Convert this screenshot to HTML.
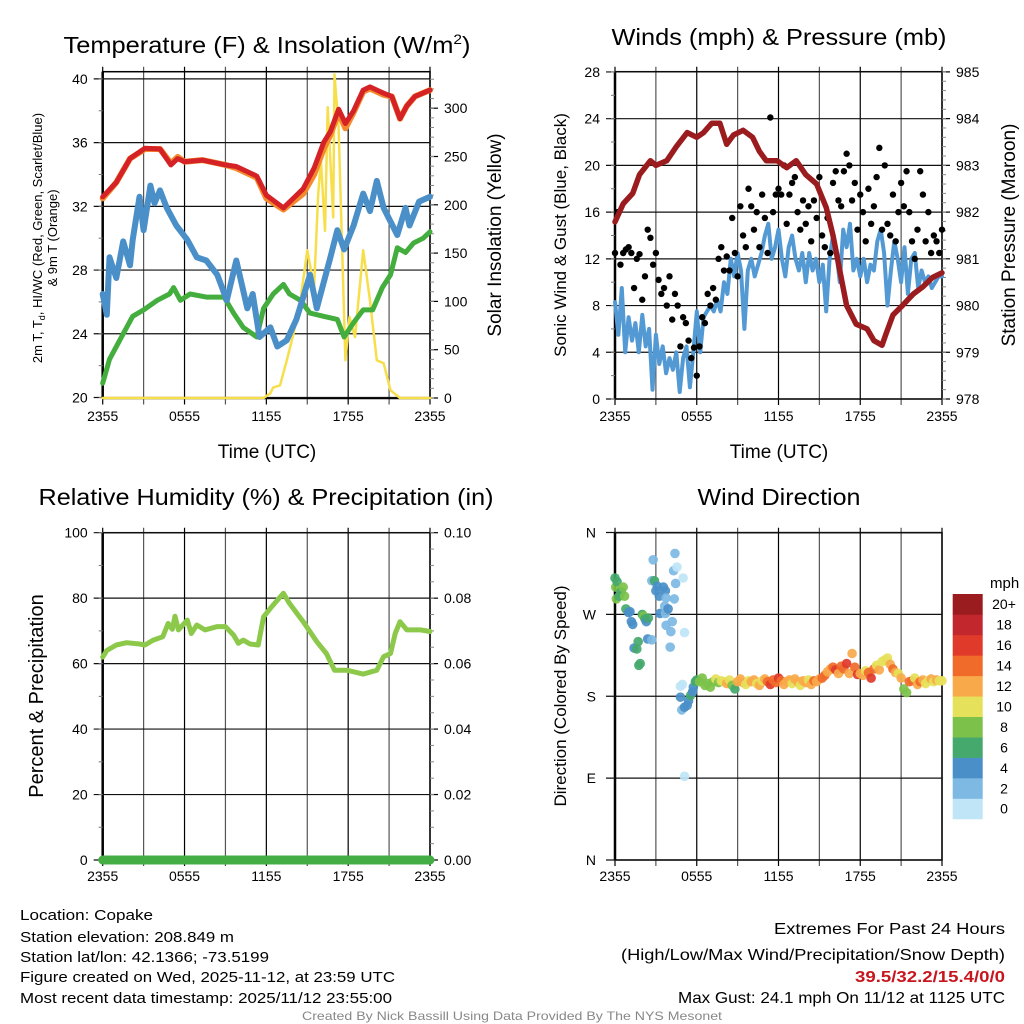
<!DOCTYPE html>
<html><head><meta charset="utf-8"><title>Copake Meteogram</title>
<style>
html,body{margin:0;padding:0;background:#fff;}
svg{display:block;font-family:"Liberation Sans",Arial,sans-serif;}
</style></head>
<body>
<svg id="chart" width="1024" height="1024" viewBox="0 0 1024 1024" xmlns="http://www.w3.org/2000/svg">
<rect width="1024" height="1024" fill="#fff"/>
<g id="layer"></g>
<text x="267" y="53" font-size="23" text-anchor="middle" textLength="407" lengthAdjust="spacingAndGlyphs">Temperature (F) &amp; Insolation (W/m<tspan font-size="14" dy="-9">2</tspan><tspan dy="9">)</tspan></text>
<text x="779" y="45" font-size="23" text-anchor="middle" textLength="335" lengthAdjust="spacingAndGlyphs">Winds (mph) &amp; Pressure (mb)</text>
<text x="266" y="505" font-size="23" text-anchor="middle" textLength="455" lengthAdjust="spacingAndGlyphs">Relative Humidity (%) &amp; Precipitation (in)</text>
<text x="779" y="505" font-size="23" text-anchor="middle" textLength="163" lengthAdjust="spacingAndGlyphs">Wind Direction</text>

<text x="267" y="458" font-size="19" text-anchor="middle">Time (UTC)</text>
<text x="779" y="458" font-size="19" text-anchor="middle">Time (UTC)</text>

<text font-size="13" text-anchor="middle" transform="translate(42,238) rotate(-90)">2m T, T<tspan font-size="9" dy="3">d</tspan><tspan dy="-3">, HI/WC (Red, Green, Scarlet/Blue)</tspan></text>
<text font-size="13" text-anchor="middle" transform="translate(57,238) rotate(-90)">&amp; 9m T (Orange)</text>
<text font-size="19" text-anchor="middle" transform="translate(501,235) rotate(-90)">Solar Insolation (Yellow)</text>
<text font-size="17" text-anchor="middle" transform="translate(566,235) rotate(-90)">Sonic Wind &amp; Gust (Blue, Black)</text>
<text font-size="19" text-anchor="middle" transform="translate(1015,235) rotate(-90)">Station Pressure (Maroon)</text>
<text font-size="20" text-anchor="middle" transform="translate(43,696) rotate(-90)">Percent &amp; Precipitation</text>
<text font-size="17" text-anchor="middle" transform="translate(566,696) rotate(-90)">Direction (Colored By Speed)</text>

<text x="990" y="588" font-size="15">mph</text>

<g font-size="15">
<text x="20" y="920" textLength="133" lengthAdjust="spacingAndGlyphs">Location: Copake</text>
<text x="20" y="942" textLength="214" lengthAdjust="spacingAndGlyphs">Station elevation: 208.849 m</text>
<text x="20" y="962" textLength="249" lengthAdjust="spacingAndGlyphs">Station lat/lon: 42.1366; -73.5199</text>
<text x="20" y="982" textLength="375" lengthAdjust="spacingAndGlyphs">Figure created on Wed, 2025-11-12, at 23:59 UTC</text>
<text x="20" y="1003" textLength="372" lengthAdjust="spacingAndGlyphs">Most recent data timestamp: 2025/11/12 23:55:00</text>
</g>
<g font-size="16" text-anchor="end">
<text x="1005" y="934" textLength="231" lengthAdjust="spacingAndGlyphs">Extremes For Past 24 Hours</text>
<text x="1005" y="960" textLength="384" lengthAdjust="spacingAndGlyphs">(High/Low/Max Wind/Precipitation/Snow Depth)</text>
<text x="1005" y="982" fill="#c8161e" font-weight="bold" textLength="150" lengthAdjust="spacingAndGlyphs">39.5/32.2/15.4/0/0</text>
<text x="1005" y="1003" textLength="327" lengthAdjust="spacingAndGlyphs">Max Gust: 24.1 mph On 11/12 at 1125 UTC</text>
</g>
<text x="512" y="1020" font-size="12" fill="#888" text-anchor="middle" textLength="420" lengthAdjust="spacingAndGlyphs">Created By Nick Bassill Using Data Provided By The NYS Mesonet</text>
</svg>
<script>
// ---------- data ----------
const xTickLabels = ["2355","0555","1155","1755","2355"];
const tempTicks = [20,24,28,32,36,40];
const solarTicks = [0,50,100,150,200,250,300];
const windTicks = [0,4,8,12,16,20,24,28];
const presTicks = [978,979,980,981,982,983,984,985];
const rhTicks = [0,20,40,60,80,100];
const precipTicks = [0,0.02,0.04,0.06,0.08,0.10];
const dirTickLabels = ["N","E","S","W","N"];
const speedBinLabels = ["0","2","4","6","8","10","12","14","16","18","20+"];

const tempT = [0,1,2,3.1,4.2,5,5.5,6,7.3,9,9.8,11.3,12,13.25,14.7,15.5,16.2,16.7,17.3,17.8,18.4,19.1,19.6,20.6,21.2,21.8,22.3,22.9,24];
const temp = [32.6,33.5,35,35.65,35.6,34.6,35.0,34.8,34.9,34.6,34.5,33.9,32.7,31.9,33.1,34.4,36,36.7,38.1,37.2,38,39.3,39.5,39.1,38.9,37.5,38.3,38.9,39.3];
const temp9m = [32.5,33.5,35,35.6,35.6,34.7,35.1,34.8,34.9,34.6,34.4,33.8,32.5,31.8,32.8,34.0,35.6,36.5,37.9,36.9,37.9,39.2,39.4,39.0,38.9,37.5,38.3,38.9,39.3];

const chillT = [0,0.3,0.5,1,1.5,2,2.2,2.7,3,3.5,3.8,4.2,4.7,5.4,6.2,6.9,7.6,8.4,9.1,9.8,10.6,11,11.5,12.3,12.8,13.5,14.2,15.2,15.7,16.7,17.2,17.7,18.4,19.1,19.6,20.1,20.6,21.6,22.2,22.5,23.2,24];
const chill = [26.5,25.2,28.8,27.5,29.8,28.3,29.9,32.6,30.5,33.3,32.2,33,31.9,30.8,29.9,28.8,28.6,27.7,26.1,28.6,25.6,26.5,23.8,24.4,23.2,23.6,24.9,27.7,25.6,28.8,30.5,29.3,30.8,32.8,31.7,33.6,31.9,30.2,31.9,30.8,32.3,32.6];

const dewT = [0,0.5,1.5,2.2,3,4,4.9,5.2,5.7,6.4,7.6,8.9,9.6,10.3,11.3,11.8,12.5,13.25,13.7,14.5,15.2,16.2,17.2,17.7,18.4,19.1,19.8,20.5,21.1,21.6,22.2,22.8,23.5,24];
const dew = [20.9,22.4,24,25.1,25.5,26.1,26.5,26.9,26.1,26.5,26.3,26.3,25.3,24.4,23.8,25.6,26.5,27.1,26.5,26.1,25.3,25.1,24.9,23.8,24.7,25.5,25.5,26.9,27.7,29.4,29.1,29.7,30,30.4];

const solarT = [0,11.8,12.3,12.5,13,13.5,14,14.5,15,15.5,15.8,16,16.3,16.5,16.9,17,17.3,17.8,18.1,18.5,19.1,19.6,20.1,20.6,21.1,21.8,24];
const solar = [0,0,5,11,13,39,67,101,153,115,211,246,173,301,187,335,280,39,84,63,153,101,39,36,8,0,0];

const presT = [0,0.6,1.3,1.8,2.6,3,3.8,4.5,5.3,6,6.5,7.1,7.7,8.2,8.7,9.4,10.1,10.6,11.1,11.9,12.6,13.3,14,14.8,15.5,16,16.5,17,17.7,18.5,19,19.6,19.9,20.4,21.1,21.9,22.6,23.3,24];
const pres = [981.79,982.18,982.4,982.8,983.1,983.0,983.1,983.4,983.7,983.6,983.7,983.9,983.9,983.45,983.65,983.75,983.6,983.3,983.1,983.1,982.95,983.1,982.8,982.6,982.1,981.5,980.75,980.0,979.6,979.5,979.25,979.15,979.4,979.8,980.0,980.25,980.4,980.6,980.7];

const windStep = 0.25;
const wind = [8.3,5.5,9.5,4, 7,5,6.5,4, 7.2,4.5,6,0.8, 5.5,3,4.5,2.2, 3.5,2.5,4,0.6, 3.5,4.5,1,4,
 7.5,4,7,7.5, 8,7.5,8.5,7.5, 10,9,12,10.5, 12.5,11,6,11, 12,10.5,11.5,12.5, 14,15,12,13,
 14.5,12,10.5,13, 14,12,11,12.5, 10,12.5,11,12, 10,11.5,7.5,12, 14,12.5,10,14.5, 13,15,11,12,
 10.5,12,10,11.5, 11,13.5,14.5,12.5, 8,11,13.5,12, 10,13,9,12, 12.5,9.5,11,10, 10.5,9.5,10,10.5, 10.5];

const gustStep = 0.2;
const gust = [12.5,16,11.5,12.5,12.8,13,12.5,9.5,12,12.4,
 8.5,10.5,14.5,13.8,11.5,12.5,10.2,9,9.5,8,
 10.5,6.8,9,8,4.5,7,6.5,5,3.5,4.4,
 2,4.5,7,6.5,9,8,9.5,8.5,12,13,
 11,12.2,11,15.5,12.5,10.5,16.5,14,13,18,
 16.5,14.5,16,13,17.5,15.5,12.5,24.1,16,17.5,
 18,17.5,20,15,17.5,18.5,19,16,14.5,17,
 15,16.5,13.5,17,15.5,19,14,13,15.5,12.5,
 18.5,19.5,17,16.5,19.5,21,20,17,18.5,14.5,
 17.5,16,13.5,18,15,16.5,19,21.5,14.5,20,
 15,14,17.5,13.5,16,18.5,16.5,19.5,16,13.5,
 12,14.5,19.5,17.5,13.5,16,12.5,14,13.5,12.5,14.5];

const rhT = [0,0.3,1,1.75,2.7,3.1,3.7,4.4,4.8,5.1,5.3,5.55,6.2,6.5,6.9,7.5,8.4,9,9.6,9.95,10.3,10.8,11.4,11.8,12.3,13.25,13.7,14.7,15.7,16.4,17,17.9,19.1,20.1,20.6,21.1,21.45,21.8,22.3,23.3,24];
const rh = [62,64,65.7,66.4,66,65.7,67.2,68.2,72.3,70.5,74.5,70.3,73.3,69.2,71.8,70.3,71.3,71.3,68.7,66.2,67.2,66,65.7,74.3,76.9,81.5,78.4,72.8,66.7,63.1,58,58,56.8,58,62.1,63.1,69.2,72.8,70.3,70.3,69.8];
const precipT = [0,24];
const precip = [0,0];

const dirEarlyT = [0,0.05,0.1,0.15,0.3,0.45,0.6,0.7,0.8,1.0,1.1,1.2,1.3,1.4,1.6,1.7,1.75,1.85,2.0,2.1,2.2,2.3,2.45,2.4,2.7,2.8,2.7,2.9,3.0,3.1,3.25,3.3,3.55,3.7,3.75,3.65,3.7,3.9,3.75,4.1,4.2,4.05,4.3,4.4,4.45,4.35,4.55,5.0,5.1,4.8,4.95,4.8,4.9,5.1,5.3,5.4,5.55,5.7,5.1,5.75,5.9];
const dirEarly = [310,300,287,306,290,295,300,290,276,272,273,262,259,233,232,240,214,216,270,268,265,262,266,243,242,330,307,307,296,301,290,271,300,296,288,279,271,276,258,251,262,234,318,337,304,287,322,310,250,191,193,179,165,168,170,175,181,185,92,190,196];
const spdEarly = [6,8,8,6,6,6,8,8,6,4,4,4,4,4,6,6,6,6,6,8,6,4,6,4,2,2,2,6,4,4,4,4,4,4,2,2,2,4,2,2,2,2,2,2,2,2,0,0,0,0,0,4,2,4,4,4,6,4,0,4,6];

const bandStart = 6, bandStep = 0.2;
const bandDir = [198,196,200,192,194,190,196,199,195,197, 196,194,198,192,188,196,199,195,193,197,
 196,198,194,192,197,199,196,193,198,195, 200,197,193,196,198,194,199,196,192,197,
 195,198,193,197,196,199,200,203,207,210, 212,209,205,213,210,216,205,227,212,204,
 205,203,208,206,200,210,214,209,218,220, 222,215,210,206,205,200,188,184,196,197,
 200,193,196,198,194,197,199,196,198,197,197];
const bandSpd = [6,7,7,8,8,7,8,9,8,10, 10,11,10,7,6,11,12,11,10,9, 12,11,10,12,9,11,14,15,14,13,
 15,14,12,11,12,10,12,11,10,11, 12,10,11,13,12,11,14,13,11,12, 14,15,12,14,13,15,12,12,14,15,
 11,12,10,13,15,14,10,11,10,9, 10,11,13,12,9,11,8,8,14,14, 10,12,14,11,10,10,11,10,11,10,10];

const speedColors = ["#bfe5f7","#7db9e3","#4a8fc8","#45a86c","#7cc24a","#e6e15a","#f8a94a","#f06a2a","#e03a2b","#c1272d","#9b1c1f"];

// ---------- geometry ----------
const NS = "http://www.w3.org/2000/svg";
const layer = document.getElementById('layer');
function mk(tag, attrs, parent){ const e=document.createElementNS(NS,tag); for(const k in attrs) e.setAttribute(k,attrs[k]); (parent||layer).appendChild(e); return e; }

const L = {x0:102.7, x1:430}, R = {x0:615, x1:942};
const top1 = 71.7, bot1 = 398.5, top2 = 532.7, bot2 = 860;
function xs(p, t){ return p.x0 + (p.x1-p.x0)*t/24; }
const yTemp = v => 397.5 - (v-20)*15.93;
const ySolar = v => 398 - v*0.966;
const yWind = v => 399 - v*11.68;
const yPres = v => 399 - (v-978)*46.73;
const yRH = v => 860 - v*3.273;
const yPrecip = v => 860 - v*3273;
const yDir = d => 860 - d*0.9097;

function frame(p, top, bot, name){
  const g = mk('g', {});
  
  
  for(let h=0; h<=24; h+=3){
    const x = xs(p,h);
    const ln = mk('line', {x1:x, x2:x, y1:top-5, y2:bot+6, stroke:(h%6==0)?'#000':'#555', 'stroke-width':1.2}, g);
    
    
  }
  const b = mk('rect', {x:p.x0, y:top, width:p.x1-p.x0, height:bot-top, fill:'none', stroke:'#000', 'stroke-width':1.5}, g);
  
  
  mk('line', {x1:p.x0, x2:p.x0, y1:top, y2:bot, stroke:'#000', 'stroke-width':2.5}, g);
  return g;
}
function xLabels(p, y, name){
  for(let i=0;i<xTickLabels.length;i++){
    const t = mk('text', {x:xs(p,i*6), y:y, 'font-size':14, 'text-anchor':'middle'});
    
    
    t.textContent = xTickLabels[i];
  }
}
function leftAxis(p, ticks, yf, name, fmt, minorStep, lo, hi, grid){
  for(const v of ticks){
    const y = yf(v);
    if(grid){ const gl = mk('line', {x1:p.x0-9, x2:p.x1, y1:y, y2:y, stroke:'#111', 'stroke-width':1.2});
      
       }
    const t = mk('text', {x:p.x0-15, y:y+5, 'font-size':14, 'text-anchor':'end'});
    
    
    t.textContent = fmt(v);
  }
  if(minorStep){ for(let v=lo; v<=hi+1e-9; v+=minorStep){ const y=yf(v); mk('line',{x1:p.x0-4,x2:p.x0,y1:y,y2:y,stroke:'#777','stroke-width':1}); } }
}
function rightAxis(p, ticks, yf, name, fmt, minorStep, lo, hi){
  for(const v of ticks){
    const y = yf(v);
    mk('line', {x1:p.x1, x2:p.x1+8, y1:y, y2:y, stroke:'#000', 'stroke-width':1.2});
    const t = mk('text', {x:p.x1+14, y:y+5, 'font-size':14});
    
    
    t.textContent = fmt(v);
  }
  for(let v=lo; v<=hi+1e-9; v+=minorStep){ const y=yf(v); mk('line',{x1:p.x1,x2:p.x1+4,y1:y,y2:y,stroke:'#888','stroke-width':1}); }
}
function line(p, T, V, yf, color, w, name){
  const pts = T.map((t,i)=> xs(p,t).toFixed(1)+','+yf(V[i]).toFixed(1)).join(' ');
  const e = mk('polyline', {points:pts, fill:'none', stroke:color, 'stroke-width':w, 'stroke-linejoin':'round', 'stroke-linecap':'round'});
  
  
  return e;
}
function speedColor(s){ return speedColors[Math.max(0, Math.min(10, Math.round(s/2)))]; }

// ---------- panel 1 ----------
frame(L, top1, bot1, 'temp');
leftAxis(L, tempTicks, yTemp, 'temp', v=>v, 2, 20, 40, true);
rightAxis(L, solarTicks, ySolar, 'solar', v=>v, 10, 0, 330);
xLabels(L, 421, 'temp');
line(L, solarT, solar, ySolar, '#f7df4c', 2.5, 'solar-line');
line(L, dewT, dew, yTemp, '#43ad3e', 5, 'dewpoint-line');
line(L, chillT, chill, yTemp, '#4a8fc8', 6, 'windchill-line');
line(L, tempT, temp9m, yTemp, '#f58a2c', 6, 'temp-9m-line');
line(L, tempT, temp, yTemp, '#d42226', 5, 'temp-2m-line');

// ---------- panel 2 ----------
frame(R, top1, 399, 'wind');
leftAxis(R, windTicks, yWind, 'wind', v=>v, 2, 0, 28, true);
rightAxis(R, presTicks, yPres, 'pressure', v=>v, 0.2, 978, 985);
xLabels(R, 421, 'wind');
line(R, wind.map((_,i)=>i*windStep), wind, yWind, '#5399d3', 4, 'sonic-wind-line');
gust.forEach((v,i)=>{
  const c = mk('circle', {cx:xs(R,i*gustStep), cy:yWind(v), r:3.2, fill:'#000'});
  
  
});
line(R, presT, pres, yPres, '#9b1c1f', 5.5, 'pressure-line');

// ---------- panel 3 ----------
frame(L, top2, bot2, 'rh');
leftAxis(L, rhTicks, yRH, 'rh', v=>v, 10, 0, 100, true);
rightAxis(L, precipTicks, yPrecip, 'precip', v=>v.toFixed(2), 0.005, 0, 0.1);
xLabels(L, 881, 'rh');
line(L, rhT, rh, yRH, '#8cc94b', 5, 'rh-line');
line(L, precipT, precip, yPrecip, '#44ad44', 9, 'precip-line');

// ---------- panel 4 ----------
frame(R, top2, bot2, 'dir');
dirTickLabels.forEach((lab,i)=>{
  const y = yDir(i*90);
  mk('line', {x1:R.x0-9, x2:R.x1, y1:y, y2:y, stroke:'#111', 'stroke-width':1.2});
  const t = mk('text', {x:R.x0-19, y:y+5, 'font-size':14, 'text-anchor':'end'});
  
  
  t.textContent = lab;
});
xLabels(R, 881, 'dir');
dirEarly.forEach((d,i)=>{
  const c = mk('circle', {cx:xs(R,dirEarlyT[i]), cy:yDir(d), r:4.8, fill:speedColor(spdEarly[i]), 'fill-opacity':0.92});
  
  
});
bandDir.forEach((d,i)=>{
  const c = mk('circle', {cx:xs(R,bandStart+i*bandStep), cy:yDir(d), r:4.8, fill:speedColor(bandSpd[i]), 'fill-opacity':0.92});
  
  
});
// colorbar
const cbTop = 594, cbH = 20.45;
speedBinLabels.forEach((lab,i)=>{
  const k = speedBinLabels.length-1-i;
  const y = cbTop + k*cbH;
  const r = mk('rect', {x:952.7, y:y, width:30, height:cbH+0.3, fill:speedColors[i]});
  
  
  const t = mk('text', {x:1004, y:y+cbH/2+5, 'font-size':14, 'text-anchor':'middle'});
  
  
  t.textContent = lab;
});
</script>
</body></html>
